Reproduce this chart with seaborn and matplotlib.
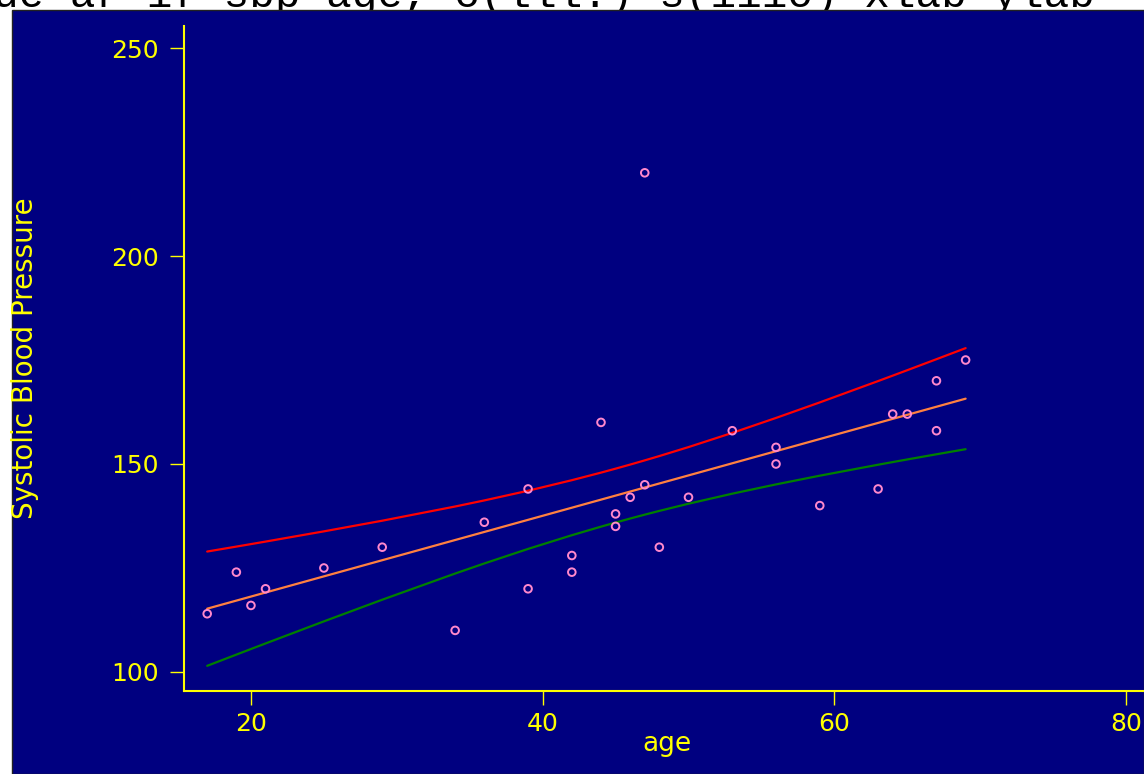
import numpy as np
import pandas as pd
import matplotlib
matplotlib.use("Agg")
import matplotlib.pyplot as plt
import seaborn as sns
from matplotlib.patches import Rectangle

# Age and systolic blood pressure for 30 subjects
age = [39, 47, 45, 47, 65, 46, 67, 42, 67, 56, 64, 56, 59, 34, 42,
       48, 45, 17, 20, 19, 36, 50, 39, 21, 44, 53, 63, 29, 25, 69]
sbp = [144, 220, 138, 145, 162, 142, 170, 124, 158, 154, 162, 150, 140, 110, 128,
       130, 135, 114, 116, 124, 136, 142, 120, 120, 160, 158, 144, 130, 125, 175]

x_ticks = [20, 40, 60, 80]
y_ticks = [100, 150, 200, 250]
x_label = "age"
y_label = "Systolic Blood Pressure"
command_text = "ue ar if sbp age, c(lll.) s(iiio) xlab ylab"

NAVY = "#000080"
YELLOW = "#ffff00"
PINK = "#ff88cc"
ORANGE = "#ff8040"
RED = "#ff0000"
GREEN = "#008000"

# Linear fit of sbp on age with a 95% confidence band for the mean
df = pd.DataFrame({"age": age, "sbp": sbp}).sort_values("age").reset_index(drop=True)
X = df["age"].to_numpy(float)
Y = df["sbp"].to_numpy(float)
n = len(X)
slope, intercept = np.polyfit(X, Y, 1)
fit = intercept + slope * X
s = np.sqrt(((Y - fit) ** 2).sum() / (n - 2))
sxx = ((X - X.mean()) ** 2).sum()
se = s * np.sqrt(1.0 / n + (X - X.mean()) ** 2 / sxx)
T_CRIT = 2.0484  # t(0.975, 28)
df["fit"] = fit
df["upper"] = fit + T_CRIT * se
df["lower"] = fit - T_CRIT * se

sns.set_theme(style="ticks")
plt.rcParams["font.family"] = ["DejaVu Sans"]

W, H = 1144, 774
fig = plt.figure(figsize=(W / 100, H / 100), dpi=100)
fig.patch.set_facecolor("white")

# command line echoed above the graph window
cmd = fig.text(-7 / W, 1 - 7 / H, command_text, family="Liberation Mono",
               fontsize=30.7, color="black", ha="left", va="baseline", zorder=-3)

# graph window
win = Rectangle((12 / W, 0), 1 - 12 / W, 1 - 10 / H, transform=fig.transFigure,
                facecolor=NAVY, edgecolor="#222222", linewidth=1, zorder=-1)
fig.add_artist(win)

ax = fig.add_axes([184 / W, (H - 691) / H, 960 / W, 665 / H])
ax.set_facecolor("none")

sns.lineplot(data=df, x="age", y="upper", color=RED, lw=1.6, estimator=None, sort=True, ax=ax)
sns.lineplot(data=df, x="age", y="lower", color=GREEN, lw=1.6, estimator=None, sort=True, ax=ax)
sns.lineplot(data=df, x="age", y="fit", color=ORANGE, lw=1.6, estimator=None, sort=True, ax=ax)
sns.scatterplot(data=df, x="age", y="sbp", s=30, facecolors="none", edgecolor=PINK,
                linewidth=1.4, ax=ax, zorder=5)

ax.set_xlim(15.41, 81.23)
ax.set_ylim(95.43, 255.29)
ax.set_xticks(x_ticks)
ax.set_yticks(y_ticks)
ax.grid(False)

for side in ("top", "right"):
    ax.spines[side].set_visible(False)
for side in ("left", "bottom"):
    ax.spines[side].set_color(YELLOW)
    ax.spines[side].set_linewidth(1.5)

ax.tick_params(axis="both", direction="out", length=10, width=1.0,
               color=YELLOW, labelcolor=YELLOW, labelsize=18)
ax.tick_params(axis="x", pad=5)
ax.tick_params(axis="y", pad=8)

ax.set_xlabel(x_label, color=YELLOW, fontsize=19)
ax.xaxis.label.set_va("baseline")
ax.xaxis.set_label_coords((667 - 184) / 960, -(751 - 691) / 665)

ax.set_ylabel(y_label, color=YELLOW, fontsize=20)
ax.yaxis.label.set_va("center")
ax.yaxis.set_label_coords(-(184 - 25) / 960, 0.5)

fig.savefig("out.png", dpi=100, facecolor=fig.get_facecolor())
